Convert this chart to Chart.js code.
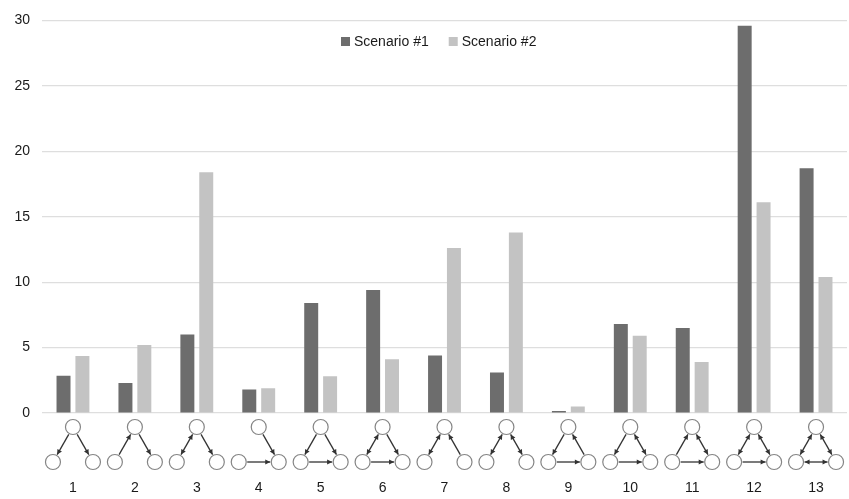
<!DOCTYPE html>
<html><head><meta charset="utf-8">
<script src="https://cdn.jsdelivr.net/npm/chart.js@4/dist/chart.umd.min.js"></script>
<style>html,body{margin:0;padding:0;background:#fff;overflow:hidden}canvas{display:block}</style>
</head><body><canvas id="c" width="849" height="499" style="width:849px;height:499px"></canvas>
<script>
const categories = ['1','2','3','4','5','6','7','8','9','10','11','12','13'];
const scenario1 = [2.85, 2.3, 6.0, 1.8, 8.4, 9.4, 4.4, 3.1, 0.15, 6.8, 6.5, 29.6, 18.7];
const scenario2 = [4.35, 5.2, 18.4, 1.9, 2.8, 4.1, 12.6, 13.8, 0.5, 5.9, 3.9, 16.1, 10.4];
const seriesNames = ['Scenario #1', 'Scenario #2'];
const yMin = 0, yMax = 30, yStep = 5;
// motif edges: [from, to, bidirectional]
const motifs = [
  [['T','L'],['T','R']],
  [['L','T'],['T','R']],
  [['T','L',1],['T','R']],
  [['T','R'],['L','R']],
  [['T','L'],['T','R'],['L','R']],
  [['T','L',1],['T','R'],['L','R']],
  [['T','L',1],['R','T']],
  [['T','L',1],['T','R',1]],
  [['T','L'],['L','R'],['R','T']],
  [['T','L'],['T','R',1],['L','R']],
  [['L','T'],['T','R',1],['L','R']],
  [['T','L',1],['T','R',1],['L','R']],
  [['T','L',1],['T','R',1],['L','R',1]]
];
const FONT = '"Liberation Sans", Arial, sans-serif';
const C1 = '#6d6d6d', C2 = '#c3c3c3';

function arrowHead(ctx, x, y, ang) {
  const s = 5, w = 2.6;
  ctx.beginPath();
  ctx.moveTo(x, y);
  ctx.lineTo(x - s*Math.cos(ang) + w*Math.sin(ang), y - s*Math.sin(ang) - w*Math.cos(ang));
  ctx.lineTo(x - s*Math.cos(ang) - w*Math.sin(ang), y - s*Math.sin(ang) + w*Math.cos(ang));
  ctx.closePath();
  ctx.fill();
}

const decor = {
  id: 'decor',
  afterDraw(chart) {
    const ctx = chart.ctx, xs = chart.scales.x, area = chart.chartArea;
    ctx.save();
    const r = 7.5;
    motifs.forEach((edges, i) => {
      const cx = xs.getPixelForValue(i);
      const pos = {T: [cx, area.bottom + 14], L: [cx - 20, area.bottom + 49], R: [cx + 20, area.bottom + 49]};
      ctx.strokeStyle = '#333'; ctx.fillStyle = '#333'; ctx.lineWidth = 1.3;
      edges.forEach(e => {
        const a = pos[e[0]], b = pos[e[1]];
        const ang = Math.atan2(b[1]-a[1], b[0]-a[0]);
        const sx = a[0] + (r+1)*Math.cos(ang), sy = a[1] + (r+1)*Math.sin(ang);
        const ex = b[0] - (r+1)*Math.cos(ang), ey = b[1] - (r+1)*Math.sin(ang);
        ctx.beginPath(); ctx.moveTo(sx, sy); ctx.lineTo(ex, ey); ctx.stroke();
        arrowHead(ctx, ex, ey, ang);
        if (e[2]) arrowHead(ctx, sx, sy, ang + Math.PI);
      });
      ctx.strokeStyle = '#858585'; ctx.lineWidth = 1.2; ctx.fillStyle = '#fff';
      Object.values(pos).forEach(p => {
        ctx.beginPath(); ctx.arc(p[0], p[1], r, 0, Math.PI*2); ctx.fill(); ctx.stroke();
      });
    });
    // legend
    ctx.font = '14px ' + FONT; ctx.textBaseline = 'middle'; ctx.textAlign = 'left';
    const ly = 42;
    let lx = 341;
    chart.data.datasets.forEach((ds) => {
      ctx.fillStyle = ds.backgroundColor;
      ctx.fillRect(lx, ly - 5, 9, 9);
      ctx.fillStyle = '#1a1a1a';
      ctx.fillText(ds.label, lx + 13, ly);
      lx += 13 + ctx.measureText(ds.label).width + 20;
    });
    ctx.restore();
  }
};

new Chart(document.getElementById('c'), {
  type: 'bar',
  data: {
    labels: categories,
    datasets: [
      {label: seriesNames[0], data: scenario1, backgroundColor: C1, categoryPercentage: 0.61, barPercentage: 0.74},
      {label: seriesNames[1], data: scenario2, backgroundColor: C2, categoryPercentage: 0.61, barPercentage: 0.74}
    ]
  },
  options: {
    responsive: false, maintainAspectRatio: false, animation: false, devicePixelRatio: 1,
    layout: {padding: {top: 14, right: 2, left: 0, bottom: 0}},
    plugins: {legend: {display: false}, tooltip: {enabled: false}},
    scales: {
      x: {
        grid: {display: false, drawTicks: false},
        border: {display: false},
        ticks: {font: {size: 14, family: FONT}, color: '#1a1a1a', padding: 67, maxRotation: 0},
        afterFit(s) { s.height = 86; s.paddingLeft = 0; s.paddingRight = 0; }
      },
      y: {
        min: yMin, max: yMax,
        ticks: {stepSize: yStep, font: {size: 14, family: FONT}, color: '#1a1a1a', padding: 12},
        grid: {color: '#dedede', lineWidth: 1.2, drawTicks: false},
        border: {display: false},
        afterFit(s) { s.width = 42; }
      }
    }
  },
  plugins: [decor]
});
</script>
</body></html>
